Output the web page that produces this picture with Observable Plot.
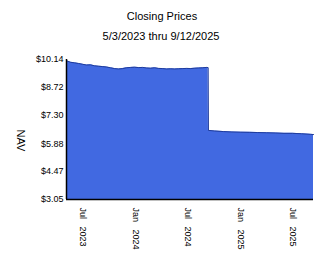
<!DOCTYPE html>
<html>
<head>
<meta charset="utf-8">
<script src="https://cdn.jsdelivr.net/npm/d3@7"></script>
<script src="https://cdn.jsdelivr.net/npm/@observablehq/plot@0.6"></script>
<style>
  html, body { margin: 0; padding: 0; background: white; }
</style>
</head>
<body>
<div id="chart"></div>
<script>
const title = "Closing Prices";
const subtitle = "5/3/2023 thru 9/12/2025";
const yLabel = "NAV";
const startDate = "2023-05-03";
const endDate = "2025-09-12";

const dates = [
  "2023-05-03","2023-05-17","2023-05-31","2023-06-14","2023-06-28","2023-07-12",
  "2023-07-26","2023-08-09","2023-08-23","2023-09-06","2023-09-20","2023-10-04",
  "2023-10-18","2023-11-01","2023-11-15","2023-11-29","2023-12-13","2023-12-27",
  "2024-01-10","2024-01-24","2024-02-07","2024-02-21","2024-03-06","2024-03-20",
  "2024-04-03","2024-04-17","2024-05-01","2024-05-15","2024-05-29","2024-06-12",
  "2024-06-26","2024-07-10","2024-07-24","2024-08-07","2024-08-21","2024-09-04",
  "2024-09-09","2024-09-10","2024-10-01","2024-11-01","2024-12-01","2025-01-01",
  "2025-02-01","2025-03-01","2025-04-01","2025-05-01","2025-06-01","2025-07-01",
  "2025-08-01","2025-09-01","2025-09-12"
];
const navValues = [
  10.08, 10.00, 9.97, 9.94, 9.90, 9.86,
  9.87, 9.82, 9.80, 9.78, 9.76, 9.72,
  9.68, 9.66, 9.68, 9.72, 9.74, 9.75,
  9.73, 9.74, 9.71, 9.70, 9.72, 9.69,
  9.68, 9.66, 9.67, 9.66, 9.67, 9.68,
  9.69, 9.68, 9.70, 9.71, 9.72, 9.74,
  9.73, 6.55, 6.52, 6.49, 6.47, 6.46,
  6.45, 6.44, 6.43, 6.42, 6.40, 6.40,
  6.38, 6.35, 6.34
];
const yTicks = [3.05, 4.47, 5.88, 7.30, 8.72, 10.14];
const xTickDates = ["2023-07-01","2024-01-01","2024-07-01","2025-01-01","2025-07-01"];

const parse = d3.utcParse("%Y-%m-%d");
const data = dates.map((d, i) => ({date: parse(d), value: navValues[i]}));
const yMin = yTicks[0], yMax = yTicks[yTicks.length - 1];
const x0 = parse(startDate), x1 = parse(endDate);
const fmtMon = d3.utcFormat("%b"), fmtYear = d3.utcFormat("%Y");

const chart = Plot.plot({
  width: 324,
  height: 267,
  marginLeft: 66,
  marginRight: 11,
  marginTop: 59,
  marginBottom: 68,
  style: {fontFamily: "'Liberation Sans', Arial, sans-serif", fontSize: "9px", background: "white", color: "black"},
  x: {type: "utc", domain: [x0, x1]},
  y: {domain: [yMin, yMax]},
  marks: [
    Plot.areaY(data, {x: "date", y1: yMin, y2: "value", fill: "#4169e1"}),
    Plot.lineY(data, {x: "date", y: "value", stroke: "#1f3c9c", strokeWidth: 1}),
    Plot.ruleX([x0], {y1: yMin, y2: yMax, stroke: "black", strokeWidth: 1.5}),
    Plot.ruleY([yMin], {stroke: "black", strokeWidth: 1.5}),
    Plot.axisY(yTicks, {tickSize: 0, tickPadding: 3, tickFormat: d => "$" + d.toFixed(2), label: null}),
    Plot.axisX(xTickDates.map(parse), {tickSize: 0, tickPadding: 8, tickRotate: 90,
      tickFormat: d => fmtMon(d) + "\u00a0\u00a0\u00a0" + fmtYear(d), label: null}),
    Plot.text([title], {frameAnchor: "top", dx: -28, dy: -43.5, fontSize: 11, lineAnchor: "middle"}),
    Plot.text([subtitle], {frameAnchor: "top", dx: -29, dy: -23, fontSize: 11, lineAnchor: "middle"}),
    Plot.text([yLabel], {frameAnchor: "left", dx: -45.5, rotate: 90, fontSize: 11})
  ]
});
document.getElementById("chart").appendChild(chart);
</script>
</body>
</html>
